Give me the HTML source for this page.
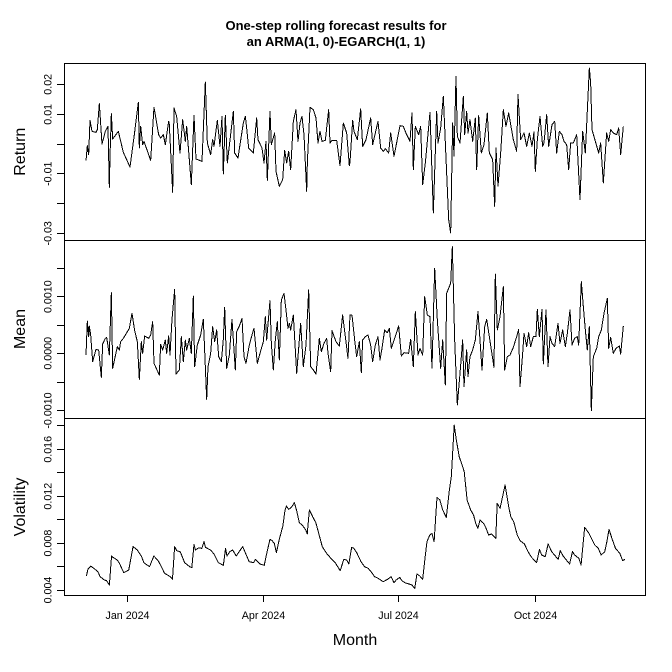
<!DOCTYPE html>
<html><head><meta charset="utf-8"><style>
html,body{margin:0;padding:0;background:#fff;}
svg{display:block;}
text{font-family:"Liberation Sans",Arial,sans-serif;fill:#000;}
</style></head><body>
<svg width="672" height="672" viewBox="0 0 672 672" xmlns="http://www.w3.org/2000/svg">
<rect width="672" height="672" fill="#fff"/>
<text x="336" y="30" text-anchor="middle" font-weight="bold" font-size="13">One-step rolling forecast results for</text>
<text x="336" y="46" text-anchor="middle" font-weight="bold" font-size="13">an ARMA(1, 0)-EGARCH(1, 1)</text>

<g stroke="#000" stroke-width="1" fill="none" shape-rendering="crispEdges">
<rect x="64.5" y="63.5" width="581" height="532"/>
<line x1="64.5" y1="240.5" x2="645.5" y2="240.5"/>
<line x1="64.5" y1="418.5" x2="645.5" y2="418.5"/>
<line x1="57" y1="84.5" x2="64.5" y2="84.5"/>
<line x1="57" y1="114.5" x2="64.5" y2="114.5"/>
<line x1="57" y1="144.5" x2="64.5" y2="144.5"/>
<line x1="57" y1="173.5" x2="64.5" y2="173.5"/>
<line x1="57" y1="203.5" x2="64.5" y2="203.5"/>
<line x1="57" y1="233.5" x2="64.5" y2="233.5"/>
<line x1="57" y1="268.5" x2="64.5" y2="268.5"/>
<line x1="57" y1="296.5" x2="64.5" y2="296.5"/>
<line x1="57" y1="325.5" x2="64.5" y2="325.5"/>
<line x1="57" y1="353.5" x2="64.5" y2="353.5"/>
<line x1="57" y1="382.5" x2="64.5" y2="382.5"/>
<line x1="57" y1="410.5" x2="64.5" y2="410.5"/>
<line x1="57" y1="425.5" x2="64.5" y2="425.5"/>
<line x1="57" y1="449.5" x2="64.5" y2="449.5"/>
<line x1="57" y1="472.5" x2="64.5" y2="472.5"/>
<line x1="57" y1="496.5" x2="64.5" y2="496.5"/>
<line x1="57" y1="519.5" x2="64.5" y2="519.5"/>
<line x1="57" y1="543.5" x2="64.5" y2="543.5"/>
<line x1="57" y1="566.5" x2="64.5" y2="566.5"/>
<line x1="57" y1="590.5" x2="64.5" y2="590.5"/>
<line x1="127.5" y1="595.5" x2="127.5" y2="602"/>
<line x1="263.5" y1="595.5" x2="263.5" y2="602"/>
<line x1="398.5" y1="595.5" x2="398.5" y2="602"/>
<line x1="535.5" y1="595.5" x2="535.5" y2="602"/>
</g>

<g font-size="10.7" text-anchor="middle">
<text transform="translate(51.5,84.3) rotate(-90)">0.02</text>
<text transform="translate(51.5,114.3) rotate(-90)">0.01</text>
<text transform="translate(51.5,173.7) rotate(-90)">-0.01</text>
<text transform="translate(51.5,233.3) rotate(-90)">-0.03</text>
<text transform="translate(51.5,296.7) rotate(-90)">0.0010</text>
<text transform="translate(51.5,353.3) rotate(-90)">0.0000</text>
<text transform="translate(51.5,410.5) rotate(-90)">-0.0010</text>
<text transform="translate(51.5,449.3) rotate(-90)">0.016</text>
<text transform="translate(51.5,496.2) rotate(-90)">0.012</text>
<text transform="translate(51.5,543.1) rotate(-90)">0.008</text>
<text transform="translate(51.5,590) rotate(-90)">0.004</text>
<text x="127.5" y="619">Jan 2024</text>
<text x="263.5" y="619">Apr 2024</text>
<text x="398.5" y="619">Jul 2024</text>
<text x="535.5" y="619">Oct 2024</text>
</g>

<g font-size="16" text-anchor="middle">
<text transform="translate(25,151.7) rotate(-90)">Return</text>
<text transform="translate(25,329) rotate(-90)">Mean</text>
<text transform="translate(25,507) rotate(-90)">Volatility</text>
<text x="355" y="645">Month</text>
</g>

<g stroke="#000" stroke-width="1" fill="none" stroke-linejoin="round" shape-rendering="crispEdges">
<g transform="translate(80 63) scale(0.333333)">
<polyline vector-effect="non-scaling-stroke" points="18,293 22,248 26,275 30,172 36,205 48,208 52,200 58,122 66,243 76,205 84,190 88,373 90,280 94,152 98,228 115,205 130,268 150,312 163,215 175,118 178,255 182,190 188,245 192,235 212,292 222,133 236,215 242,225 250,215 256,245 266,175 268,185 278,388 282,135 290,160 300,270 308,170 316,235 320,190 334,365 342,157 348,288 366,295 376,57 382,240 392,275 398,230 402,250 412,172 420,250 426,160 430,333 436,157 442,300 460,145 464,270 474,285 480,245 490,180 496,160 500,195 506,255 520,270 530,165 534,230 546,255 552,300 558,235 562,352 570,145 574,245 584,210 588,325 598,370 608,350 614,262 620,300 626,265 632,320 640,175 648,140 654,235 660,180 666,160 672,215 680,385 682,300 690,133 700,140 708,165 714,240 720,205 726,235 736,232 746,140 750,240 756,232 770,232 780,308 790,180 800,210 808,308 810,298"/>
</g>
<g transform="translate(350 63) scale(0.333333)">
<polyline vector-effect="non-scaling-stroke" points="0,298 8,172 12,205 22,230 32,138 38,250 48,230 62,165 68,245 84,175 92,255 100,265 106,257 116,270 122,210 132,280 150,188 160,190 170,215 180,235 186,150 190,320 196,190 206,215 212,190 218,365 226,300 240,148 250,450 260,145 264,240 272,195 280,100 296,470 302,510 308,180 312,280 318,40 322,220 330,240 340,100 344,215 350,145 354,210 360,170 368,235 376,165 380,320 386,158 394,270 402,245 412,150 418,270 428,290 434,430 438,255 444,370 452,270 460,140 468,190 476,150 490,230 500,265 504,95 512,230 522,210 530,250 538,210 546,250 552,207 556,325 562,230 570,160 578,250 582,240 590,155 596,250 606,185 614,175 620,270 628,205 636,215 642,235 650,245 656,320 662,240 670,240 680,215 690,410 698,205 706,270 718,15 722,60 726,200 746,270 752,240 760,360 770,210 776,235 782,200 790,210 800,215 806,195 812,275 820,190"/>
</g>
<g transform="translate(80 240) scale(0.333333)">
<polyline vector-effect="non-scaling-stroke" points="18,345 22,243 26,290 28,258 32,285 38,365 48,328 56,330 64,412 68,312 76,295 80,292 88,345 94,158 98,385 112,320 118,330 122,305 130,295 148,265 156,220 164,272 172,305 178,418 184,305 188,340 194,288 206,295 212,285 218,245 222,370 238,405 242,313 248,330 256,300 260,340 266,288 270,345 276,238 284,148 288,402 298,390 304,290 310,365 316,300 320,330 328,295 334,340 340,168 344,380 352,315 362,285 370,238 376,380 380,478 384,380 392,340 398,260 404,305 410,270 416,350 424,365 430,298 434,202 440,385 448,345 456,238 466,390 470,275 478,258 486,235 492,350 498,370 508,315 516,285 522,265 532,370 540,340 550,305 556,230 560,300 570,182 574,310 580,390 586,300 592,245 598,360 604,180 612,160 618,210 624,265 628,250 632,270 640,225 650,400 656,325 662,250 670,380 678,315 686,150 692,380 700,390 708,402 714,340 718,295 724,335 732,310 740,295 744,340 752,395 756,272 768,305 778,318 788,225 796,290 804,355 810,225 816,225"/>
</g>
<g transform="translate(350 240) scale(0.333333)">
<polyline vector-effect="non-scaling-stroke" points="6,225 14,300 20,350 28,305 34,398 38,300 46,290 54,285 62,315 68,365 76,315 84,290 90,360 96,325 104,270 112,278 118,265 124,325 134,295 146,258 154,348 162,338 176,340 182,298 190,380 196,215 204,345 210,325 218,345 224,170 232,225 240,230 246,385 254,85 262,240 272,385 278,300 286,435 290,160 302,130 307,20 314,300 322,495 330,400 338,300 342,440 350,330 354,410 360,350 368,330 376,300 384,215 390,300 396,390 404,260 410,238 418,290 432,382 436,102 442,270 450,230 460,140 464,390 472,350 480,345 490,322 500,290 506,268 510,440 518,340 522,280 530,320 536,278 542,320 550,290 558,290 562,208 568,290 576,208 580,372 588,210 594,380 600,290 606,310 614,320 624,250 630,310 638,270 646,320 652,280 660,210 666,315 674,295 682,290 686,315 694,125 700,200 706,270 712,330 718,260 724,512 730,350 740,325 746,290 754,270 762,220 772,175 776,325 782,292 790,340 798,325 808,318 812,342 820,258"/>
</g>
<g transform="translate(80 420) scale(0.358423 0.333333)">
<polyline vector-effect="non-scaling-stroke" points="18,468 22,448 30,438 42,448 50,455 56,470 68,480 74,482 82,495 88,408 92,412 104,420 110,430 122,458 136,450 148,380 160,390 172,410 178,428 194,440 206,408 218,422 226,438 236,460 252,470 258,478 264,380 270,392 280,396 292,428 306,440 312,443 318,374 322,390 330,384 340,385 346,365 350,382 364,390 374,402 386,428 400,436 406,385 410,408 418,395 426,390 436,408 446,392 454,380 460,395 472,425 484,428 490,418 502,432 514,436 520,405 530,358 536,362 542,370 548,398 556,358 566,318 572,270 576,258 582,268 590,262 598,248 604,270 612,308 622,318 630,330 634,342 640,270 650,292 658,308 666,340 676,380 688,400 700,415 712,428 726,452 736,418 744,420 750,432 758,382 764,385 772,398 784,425 794,440 804,445 812,455 822,470 832,475 846,485 858,478 868,470 876,488 882,480 892,472 898,482 906,488 918,492 926,495 934,505 940,462 948,468 956,478 962,420 968,365 976,345 982,340 988,365 992,298 996,232 1004,240 1012,270 1022,292 1030,215 1036,170 1044,15 1050,60 1058,110 1066,135 1072,155 1080,240 1090,270 1098,285 1104,310 1110,325 1116,300 1126,310 1132,322 1140,345 1148,342 1160,355 1164,250 1172,265 1180,225 1186,195 1196,260 1202,290 1210,305 1220,345 1228,362 1240,372 1250,395 1260,412 1274,428 1282,388 1288,405 1298,410 1306,372 1316,395 1334,418 1340,392 1348,408 1366,432 1374,395 1380,405 1392,415 1398,435 1408,322 1420,340 1436,375 1446,385 1454,405 1464,395 1470,365 1476,328 1484,355 1494,385 1506,400 1514,422 1520,418"/>
</g>
</g>
</svg>
</body></html>
